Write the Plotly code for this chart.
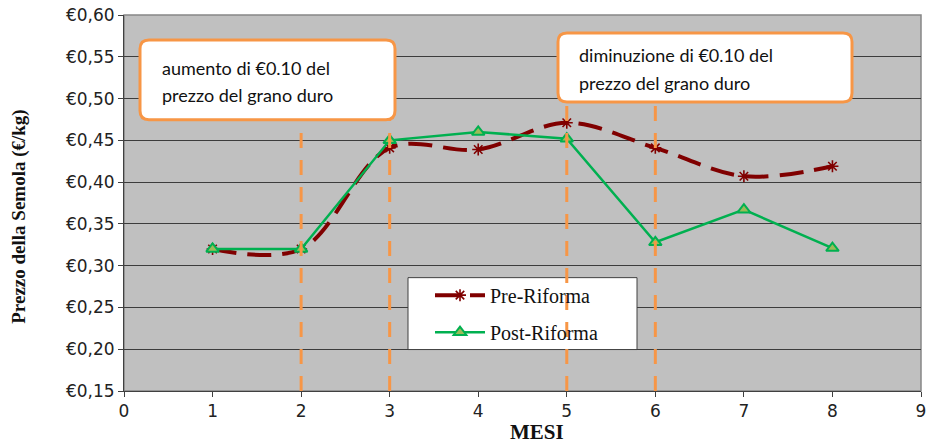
import plotly.graph_objects as go

# ---- data ----
mesi = [1, 2, 3, 4, 5, 6, 7, 8]
pre_riforma = [0.320, 0.320, 0.441, 0.439, 0.471, 0.441, 0.407, 0.419]
post_riforma = [0.320, 0.320, 0.450, 0.460, 0.452, 0.328, 0.367, 0.321]
y_tick_vals = [0.15, 0.20, 0.25, 0.30, 0.35, 0.40, 0.45, 0.50, 0.55, 0.60]
y_tick_text = ["€0,15", "€0,20", "€0,25", "€0,30", "€0,35", "€0,40", "€0,45", "€0,50", "€0,55", "€0,60"]
x_tick_vals = [0, 1, 2, 3, 4, 5, 6, 7, 8, 9]
event_months_up = [2, 3]
event_months_down = [5, 6]
callout_up = ["aumento di €0.10 del", "prezzo del grano duro"]
callout_down = ["diminuzione di €0.10 del", "prezzo del grano duro"]

W, H = 928, 446
PL, PR, PT, PB = 124, 921, 15, 391.5   # plot area in window pixels
ML, MT = PL, PT
MR = W - PR
MB = H - PB
PW = PR - PL
PH = PB - PT
XMIN, XMAX = 0, 9
YMIN, YMAX = 0.15, 0.60


def px_x(p):
    return XMIN + (p - PL) / PW * (XMAX - XMIN)


def px_y(p):
    return YMIN + (PB - p) / PH * (YMAX - YMIN)


def paper_x(p):
    return (p - PL) / PW


def paper_y(p):
    return (PB - p) / PH


def rounded_rect(x0p, y0p, x1p, y1p, r=9):
    X0, X1 = px_x(x0p), px_x(x1p)
    Y0, Y1 = px_y(y0p), px_y(y1p)
    rx = r / PW * (XMAX - XMIN)
    ry = r / PH * (YMAX - YMIN)
    return (
        f"M{X0 + rx},{Y0} L{X1 - rx},{Y0} Q{X1},{Y0} {X1},{Y0 - ry} "
        f"L{X1},{Y1 + ry} Q{X1},{Y1} {X1 - rx},{Y1} "
        f"L{X0 + rx},{Y1} Q{X0},{Y1} {X0},{Y1 + ry} "
        f"L{X0},{Y0 - ry} Q{X0},{Y0} {X0 + rx},{Y0} Z"
    )


ORANGE = "#F79646"
fig = go.Figure()

fig.add_trace(go.Scatter(
    x=mesi, y=pre_riforma, name="Pre-Riforma", mode="lines+markers",
    line=dict(color="#800000", width=4, dash="24px,11px", shape="spline", smoothing=1),
    marker=dict(symbol="asterisk-open", size=10, line=dict(color="#800000", width=1.6)),
    legendgroup="a",
))
fig.add_trace(go.Scatter(
    x=mesi, y=post_riforma, name="Post-Riforma", mode="lines+markers",
    line=dict(color="#00B050", width=2.5),
    marker=dict(symbol="triangle-up", size=11, color="#9BBB59", line=dict(color="#00B050", width=2)),
    legendgroup="b",
))

shapes = []
shapes.append(dict(type="rect", xref="paper", yref="paper", x0=0, y0=0, x1=1, y1=1,
                   line=dict(color="#868686", width=1.5), layer="below"))
shapes.append(dict(type="rect", xref="x", yref="y",
                   x0=px_x(408), x1=px_x(637), y0=px_y(278), y1=px_y(350),
                   fillcolor="white", line=dict(color="#404040", width=1), layer="above"))
for m in event_months_up:
    shapes.append(dict(type="line", xref="x", yref="y", x0=m, x1=m, y0=YMIN, y1=px_y(120),
                       line=dict(color=ORANGE, width=3, dash="15px,12px"), layer="above"))
for m in event_months_down:
    shapes.append(dict(type="line", xref="x", yref="y", x0=m, x1=m, y0=YMIN, y1=px_y(102),
                       line=dict(color=ORANGE, width=3, dash="15px,12px"), layer="above"))
shapes.append(dict(type="path", xref="x", yref="y", path=rounded_rect(140, 40, 395, 120),
                   fillcolor="white", line=dict(color=ORANGE, width=3), layer="above"))
shapes.append(dict(type="path", xref="x", yref="y", path=rounded_rect(558, 33, 852, 102),
                   fillcolor="white", line=dict(color=ORANGE, width=3), layer="above"))

annotations = []
CAL = "Lato, 'Open Sans', sans-serif"
for i, t in enumerate(callout_up):
    annotations.append(dict(x=px_x(160), y=px_y(68 + 27 * i), xref="x", yref="y", text=t,
                            showarrow=False, xanchor="left", yanchor="middle",
                            font=dict(family=CAL, size=18, color="#111")))
for i, t in enumerate(callout_down):
    annotations.append(dict(x=px_x(577), y=px_y(55 + 28 * i), xref="x", yref="y", text=t,
                            showarrow=False, xanchor="left", yanchor="middle",
                            font=dict(family=CAL, size=18, color="#111")))
annotations.append(dict(x=paper_x(19), y=paper_y(217), xref="paper", yref="paper",
                        text="<b>Prezzo della Semola (€/kg)</b>", textangle=-90, showarrow=False,
                        xanchor="center", yanchor="middle",
                        font=dict(family="Liberation Serif", size=19, color="#111")))
annotations.append(dict(x=paper_x(537), y=paper_y(433), xref="paper", yref="paper",
                        text="<b>MESI</b>", showarrow=False, xanchor="center", yanchor="middle",
                        font=dict(family="Liberation Serif", size=21, color="#111")))

fig.update_layout(
    width=W, height=H,
    margin=dict(l=ML, r=MR, t=MT, b=MB, autoexpand=False),
    paper_bgcolor="white", plot_bgcolor="#C0C0C0",
    shapes=shapes, annotations=annotations,
    showlegend=True,
    legend=dict(x=paper_x(430), y=paper_y(276), xanchor="left", yanchor="top",
                bgcolor="rgba(0,0,0,0)", borderwidth=0, itemwidth=50,
                traceorder="grouped", tracegroupgap=8,
                font=dict(family="Liberation Serif", size=20, color="#111")),
    xaxis=dict(range=[XMIN, XMAX], tickvals=x_tick_vals, showgrid=False, zeroline=False,
               showline=True, linecolor="#404040", linewidth=1,
               ticks="outside", ticklen=5, tickcolor="#404040", ticklabeloverflow="allow",
               tickfont=dict(family="DejaVu Sans", size=17, color="#222")),
    yaxis=dict(range=[YMIN, YMAX], tickvals=y_tick_vals, ticktext=y_tick_text,
               showgrid=True, gridcolor="#3c3c3c", gridwidth=1, zeroline=False,
               showline=True, linecolor="#404040", linewidth=1,
               ticks="outside", ticklen=5, tickcolor="#404040", ticklabeloverflow="allow",
               tickfont=dict(family="DejaVu Sans", size=17, color="#222")),
)

fig.write_html("out.html", config={"displayModeBar": False},
               post_script="document.body.style.margin='0';document.body.style.overflow='hidden';")
